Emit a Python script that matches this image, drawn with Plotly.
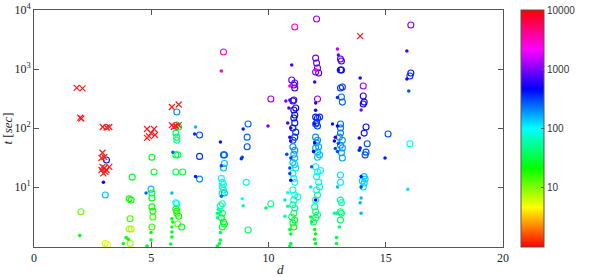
"""Scatter van looptijd t tegen d, gekleurd op log-schaal (hsv)."""

import numpy as np
import plotly.graph_objects as go

# --- data: rode kruisjes (d, t) ---
x_d = [1.82, 2.07, 1.97, 2.02, 2.93, 3.10, 3.21,
       2.92, 2.88, 3.00, 2.92, 3.00, 2.88, 2.96, 3.21, 3.09, 3.04,
       4.82, 5.12, 4.99, 4.90, 5.16, 4.82,
       5.88, 6.17, 5.88, 6.05, 6.17, 5.96, 13.91]
x_t = [480, 470, 150, 145, 104, 102, 104,
       38, 31, 32, 22, 21, 19.4, 17, 22, 19.4, 18,
       96, 96, 82, 73, 76, 68,
       227, 250, 112, 108, 112, 104, 3600]

# --- data: open cirkels (d, t, kleurwaarde c) ---
circ_d = [2.00, 3.09, 3.04, 3.04, 3.13,
          4.19, 4.06, 4.14, 4.10, 4.06, 4.14, 4.10,
          5.03, 5.12, 4.99, 5.03, 5.03, 5.03, 5.07, 5.07, 5.03,
          6.09, 6.09, 6.17, 6.05, 6.09, 6.09, 6.05, 6.13, 6.05, 6.34, 6.05, 6.09,
          6.05, 6.09, 6.09, 6.17, 6.13, 6.30,
          7.06, 7.06, 7.06,
          8.08, 8.08, 8.12, 8.12, 8.08, 7.99, 8.03, 8.08, 8.03, 8.08, 8.03, 8.12,
          8.03, 7.95, 8.03, 7.99, 8.08, 8.12, 8.03,
          9.13, 9.09, 9.09, 9.05, 9.13,
          10.10, 10.10,
          11.12, 10.99, 11.08, 11.12, 11.12, 11.04, 11.08, 11.16, 11.08, 11.12,
          11.08, 11.12, 11.04, 11.16, 11.12, 11.04, 11.04, 11.12, 11.08, 11.12,
          11.04, 11.12, 11.16, 11.04, 11.08, 11.12, 11.04, 11.12, 11.25, 11.08,
          11.04, 11.12, 11.08, 10.99, 11.12, 11.04, 11.08,
          12.05, 12.01, 12.05, 12.09, 12.14, 12.01, 12.09, 12.01, 12.09, 12.18,
          12.05, 12.09, 12.01, 12.01, 12.09, 12.05, 12.14, 12.01, 12.09, 12.18,
          12.09, 12.01, 12.09, 12.22, 12.05, 12.14, 12.18, 12.05, 12.09, 12.01,
          11.97, 12.01, 12.09, 12.01, 11.92,
          13.11, 13.07, 13.07, 13.11, 13.07, 13.15, 13.11, 13.15, 13.07, 13.07,
          13.07, 13.02, 13.15, 13.07, 13.15, 13.11, 13.15, 13.07, 13.07, 13.07,
          13.11, 13.07, 13.11, 13.07,
          14.04, 14.04, 14.08, 14.04, 14.16, 14.08, 14.21, 14.16, 14.12, 14.08,
          14.12, 14.00, 14.08, 14.04,
          15.10,
          16.07, 16.07, 16.03, 16.03]
circ_t = [3.8, 28.7, 7.3, 1.1, 1.05,
          14.7, 6.3, 6.0, 2.9, 1.94, 1.94, 1.1,
          32, 18, 9.2, 7.9, 6.5, 4.6, 3.9, 3.1, 2.1,
          187, 112, 104, 82, 70, 62, 35, 35, 18, 18, 5.4, 5.2,
          4.2, 3.9, 3.6, 3.2, 2.36, 2.1,
          76, 33, 13.6,
          1940, 35, 35, 25, 21, 14, 12, 11, 10, 8.9, 7.9, 7.9,
          5.2, 4.8, 3.6, 3.0, 2.55, 2.36, 2.1,
          117, 70, 48, 12, 1.87,
          310, 5.2,
          5150, 650, 535, 476, 580, 286, 298, 218, 202, 166,
          148, 122, 100, 85, 70, 62, 48, 42, 36, 31,
          26, 24, 21, 17, 14, 12, 8.9, 7.3, 6.8, 6.0,
          5.0, 4.4, 3.6, 3.1, 2.75, 2.45, 2.1,
          7030, 1530, 1260, 1040, 855, 890, 310, 153, 148, 153,
          122, 108, 117, 70, 62, 56, 48, 46, 39, 35,
          32, 22, 18, 19, 15, 12, 10, 8.9, 7.3, 6.0,
          4.6, 3.8, 3.35, 3.0, 2.55,
          1365, 1480, 960, 960, 476, 495, 335, 275, 117, 100,
          82, 70, 62, 51, 46, 38, 31, 16, 12, 6.0,
          5.4, 3.8, 3.6, 2.75,
          515, 348, 275, 255, 104, 82, 54, 39, 35, 15,
          13.6, 12.6, 11.7, 10,
          79,
          5570, 855, 760, 54]
circ_c = [12, 400, 150, 6, 5,
          25, 22, 20, 15, 8, 8, 8,
          25, 30, 150, 30, 25, 20, 20, 15, 15,
          200, 40, 35, 40, 45, 45, 35, 35, 35, 30, 100, 80,
          25, 20, 15, 20, 12, 25,
          300, 350, 200,
          3000, 250, 250, 150, 150, 100, 90, 80, 70, 60, 60, 150,
          70, 50, 40, 30, 25, 25, 30,
          250, 250, 300, 80, 40,
          1200, 50,
          3000, 800, 700, 700, 900, 600, 650, 500, 500, 450,
          450, 400, 400, 350, 350, 300, 200, 200, 180, 150,
          150, 130, 120, 110, 100, 100, 80, 80, 80, 70,
          60, 50, 45, 35, 30, 30, 25,
          1200, 900, 900, 800, 700, 1000, 1200, 400, 400, 350,
          350, 300, 300, 200, 200, 180, 170, 160, 160, 150,
          140, 100, 100, 90, 90, 80, 80, 70, 60, 60,
          50, 45, 45, 40, 40,
          700, 700, 450, 450, 350, 350, 250, 250, 250, 250,
          220, 200, 200, 200, 180, 180, 170, 120, 110, 60,
          60, 45, 45, 40,
          1300, 600, 550, 500, 450, 400, 300, 300, 280, 150,
          140, 130, 130, 120,
          300,
          1000, 400, 350, 100]

# --- data: kleine stippen (d, t, kleurwaarde c) ---
dot_d = [1.95, 2.96, 3.81, 3.93, 4.02,
         4.99, 4.99, 4.82, 4.78,
         5.92, 5.88, 5.88, 5.92, 5.88, 5.88, 5.88, 5.83,
         6.89, 6.85, 6.89,
         7.99, 7.95, 7.99, 7.99, 7.86, 7.82, 7.82, 7.95, 7.95, 7.95, 7.91, 7.82,
         8.92, 8.88, 8.84, 8.88, 8.92,
         9.98, 9.89,
         10.99, 10.91, 10.74, 10.91, 10.87, 10.82, 10.95, 10.91, 10.95, 10.78,
         10.95, 10.91, 10.91, 10.95, 10.82, 10.70, 10.82, 10.70, 10.91, 10.95,
         10.95, 10.91,
         12.01, 11.97, 12.01, 12.01, 11.97, 11.97, 11.92, 11.84, 11.80, 12.01,
         11.80, 11.84, 11.97, 12.01, 11.97, 12.01,
         12.94, 12.98, 12.98, 12.94, 12.73, 12.94, 12.85, 12.81, 12.98, 12.94,
         12.85, 12.94, 12.90, 12.81, 13.02, 12.90, 12.90,
         13.91, 13.95, 13.87, 13.91, 13.87, 13.95, 13.95, 13.95, 13.91, 13.95,
         14.97,
         15.90, 15.90, 15.98, 15.94]
dot_t = [1.5, 12, 1.1, 1.4, 1.3,
         1.7, 1.26, 1.0, 7.9,
         39, 7.9, 2.9, 2.55, 2.1, 1.73, 1.42, 1.08,
         104, 79, 15,
         925, 58, 23, 7, 4.2, 3.6, 3.0, 3.8, 1.7, 1.26, 1.1, 1.0,
         96, 32, 30, 6.3, 4.8,
         108, 4.4,
         1170, 515, 286, 298, 218, 122, 100, 70, 60, 36,
         31, 21, 17, 13, 8, 6, 4.7, 3.2, 1.9, 1.6,
         1.1, 1.0,
         960, 600, 265, 200, 118, 56, 40, 22, 10, 6,
         3.1, 2.55, 1.9, 1.6, 1.3, 1.1,
         2180, 1730, 960, 330, 117, 108, 70, 60, 55, 40,
         45, 10, 3.6, 3.6, 2.1, 1.4, 1.1,
         703, 202, 68, 46, 42, 15, 10, 6.5, 5.4, 3.6,
         31,
         2020, 680, 424, 9.2]
dot_c = [20, 500, 25, 20, 20,
         20, 25, 25, 250,
         250, 150, 25, 25, 30, 25, 25, 30,
         150, 350, 400,
         2500, 400, 300, 250, 70, 40, 60, 50, 35, 30, 30, 30,
         400, 300, 350, 100, 60,
         1000, 35,
         700, 2500, 1000, 700, 700, 700, 600, 600, 600, 300,
         300, 300, 300, 500, 100, 120, 60, 60, 30, 30,
         30, 30,
         2500, 600, 600, 500, 600, 500, 500, 250, 120, 500,
         30, 30, 25, 25, 25, 25,
         1500, 800, 500, 350, 400, 500, 600, 500, 300, 300,
         300, 150, 50, 50, 40, 30, 30,
         600, 1000, 500, 400, 400, 400, 300, 150, 150, 150,
         400,
         700, 600, 300, 120]

cbar_vals = [1, 2, 3, 4]
cbar_text = ["10", "100", "1000", "10000"]

# matlab-achtige hsv kleurenschaal
HSV = [[0, "#ff0000"], [1 / 6, "#ffff00"], [2 / 6, "#00ff00"], [3 / 6, "#00ffff"],
       [4 / 6, "#0000ff"], [5 / 6, "#ff00ff"], [1, "#ff0000"]]
SERIF = "Liberation Serif"
AX = "#555555"

fig = go.Figure()

fig.add_trace(go.Scatter(
    x=circ_d, y=circ_t, mode="markers", name="cirkels",
    marker=dict(symbol="circle-open", size=6, line=dict(width=1.1),
                color=np.log10(circ_c), coloraxis="coloraxis"),
))
fig.add_trace(go.Scatter(
    x=dot_d, y=dot_t, mode="markers", name="stippen",
    marker=dict(symbol="circle", size=3.5,
                color=np.log10(dot_c), coloraxis="coloraxis"),
))
fig.add_trace(go.Scatter(
    x=x_d, y=x_t, mode="markers", name="kruisjes",
    marker=dict(symbol="x-thin-open", size=6, color="#ff1a1a",
                line=dict(width=1.2, color="#ff1a1a")),
))

axis_style = dict(
    showline=True, linecolor=AX, linewidth=1, mirror="ticks",
    ticks="inside", ticklen=5, tickcolor=AX, showgrid=False, zeroline=False,
    automargin=False,
    tickfont=dict(family=SERIF, size=12, color="#222222"),
)

fig.update_layout(
    template="none",
    width=589, height=277,
    margin=dict(l=34, r=82, t=10, b=30),
    plot_bgcolor="white", paper_bgcolor="white",
    showlegend=False,
    xaxis=dict(range=[0, 20], tickvals=[0, 5, 10, 15, 20], **axis_style),
    yaxis=dict(type="log", range=[-0.017, 4],
               tickvals=[10, 100, 1000, 10000],
               ticktext=["10<sup>1</sup>", "10<sup>2</sup>",
                         "10<sup>3</sup>", "10<sup>4</sup>"],
               title=dict(text="<i>t</i> [<i>sec</i>]",
                          font=dict(family=SERIF, size=13, color="#222222")),
               **axis_style),
    coloraxis=dict(
        colorscale=HSV, cmin=0, cmax=4,
        colorbar=dict(
            x=1.038, xanchor="left", y=0.5, yanchor="middle", len=1,
            xpad=0, ypad=0,
            thickness=23, outlinecolor=AX, outlinewidth=1,
            tickvals=cbar_vals, ticktext=cbar_text, ticks="inside",
            ticklen=3, tickcolor=AX,
            tickfont=dict(family="Liberation Sans", size=10, color="#333333"),
        ),
    ),
)

# as-label d vlak onder de ticklabels, zoals in het origineel
fig.add_annotation(text="<i>d</i>", x=0.525, y=-0.055, xref="paper", yref="paper",
                   yanchor="top", showarrow=False,
                   font=dict(family=SERIF, size=13, color="#222222"))

# body-marge weg zodat de figuur precies in het venster valt
fig.write_html("out.html", config={"displayModeBar": False},
               post_script="document.body.style.margin='0';")
